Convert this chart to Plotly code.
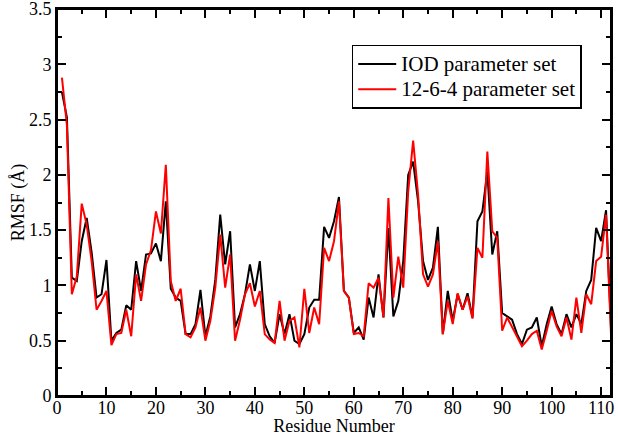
import plotly.graph_objects as go

residues = list(range(1, 113))

iod = [2.75, 2.52, 1.07, 1.04, 1.40, 1.61, 1.30, 0.89, 0.92, 1.23,
       0.50, 0.57, 0.60, 0.82, 0.78, 1.22, 0.95, 1.28, 1.29, 1.38,
       1.22, 1.76, 0.97, 0.89, 0.86, 0.56, 0.56, 0.65, 0.96, 0.54,
       0.72, 1.05, 1.64, 1.19, 1.49, 0.62, 0.74, 0.92, 1.19, 0.95,
       1.22, 0.65, 0.54, 0.48, 0.74, 0.56, 0.74, 0.50, 0.47, 0.56,
       0.80, 0.87, 0.87, 1.53, 1.43, 1.58, 1.80, 0.95, 0.89, 0.57,
       0.62, 0.51, 0.89, 0.71, 1.10, 0.71, 1.52, 0.72, 0.86, 1.22,
       2.00, 2.12, 1.76, 1.22, 1.05, 1.16, 1.53, 0.56, 0.95, 0.68,
       0.92, 0.78, 0.93, 0.71, 1.58, 1.67, 2.03, 1.28, 1.49, 0.75,
       0.72, 0.69, 0.56, 0.47, 0.60, 0.62, 0.71, 0.45, 0.65, 0.81,
       0.65, 0.56, 0.74, 0.62, 0.74, 0.65, 0.95, 1.05, 1.52, 1.40,
       1.68, 0.62]

p1264 = [2.88, 2.45, 0.92, 1.08, 1.74, 1.55, 1.22, 0.78, 0.86, 0.95,
         0.46, 0.56, 0.57, 0.78, 0.54, 1.10, 0.86, 1.19, 1.32, 1.67,
         1.47, 2.09, 1.04, 0.86, 0.97, 0.56, 0.53, 0.62, 0.80, 0.50,
         0.68, 0.98, 1.46, 0.98, 1.28, 0.50, 0.69, 0.92, 1.02, 0.81,
         0.95, 0.56, 0.51, 0.48, 0.86, 0.50, 0.68, 0.71, 0.44, 0.97,
         0.57, 0.80, 0.65, 1.34, 1.22, 1.40, 1.76, 0.95, 0.89, 0.56,
         0.57, 0.54, 1.02, 0.98, 1.07, 0.71, 1.79, 0.89, 1.26, 0.98,
         1.85, 2.31, 1.82, 1.10, 0.99, 1.10, 1.40, 0.56, 0.86, 0.65,
         0.93, 0.78, 0.90, 0.70, 1.34, 1.25, 2.21, 1.49, 1.43, 0.59,
         0.71, 0.62, 0.53, 0.45, 0.50, 0.56, 0.59, 0.42, 0.59, 0.77,
         0.63, 0.54, 0.71, 0.51, 0.89, 0.57, 0.92, 0.83, 1.22, 1.26,
         1.64, 0.56]

series_names = ["IOD parameter set", "12-6-4 parameter set"]
series_colors = ["#000000", "#ff0000"]

x_ticks = list(range(0, 111, 10))
y_ticks = [0, 0.5, 1, 1.5, 2, 2.5, 3, 3.5]

font_family = "Liberation Serif, Times New Roman, serif"

fig = go.Figure()
for name, vals, col in zip(series_names, [iod, p1264], series_colors):
    fig.add_trace(go.Scatter(
        x=residues, y=vals, mode="lines",
        name="<span style='font-size:21px'>" + name + "</span>",
        line=dict(color=col, width=2)))

axis_common = dict(
    showline=True, linecolor="black", linewidth=2, mirror="allticks",
    ticks="inside", ticklen=9, tickwidth=2, tickcolor="black",
    showgrid=False, zeroline=False, automargin=False,
    ticklabeloverflow="allow",
    tickfont=dict(family=font_family, size=18, color="black"),
)

fig.update_xaxes(range=[0, 112], tickvals=x_ticks, ticklabelstandoff=-6,
                 minor=dict(dtick=5, tick0=0, ticks="inside", ticklen=5,
                            tickwidth=2, tickcolor="black"),
                 title=dict(text="Residue Number",
                            font=dict(family=font_family, size=18, color="black"),
                            standoff=3),
                 **axis_common)
fig.update_yaxes(range=[0, 3.5001], tickvals=y_ticks,
                 minor=dict(dtick=0.25, tick0=0, ticks="inside", ticklen=5,
                            tickwidth=2, tickcolor="black"),
                 title=dict(text="RMSF (Å)",
                            font=dict(family=font_family, size=18, color="black"),
                            standoff=0),
                 **axis_common)

# plot frame
fig.add_shape(type="rect", xref="paper", yref="paper", x0=0, x1=1, y0=0, y1=1,
              line=dict(color="black", width=2), layer="above")

fig.update_layout(
    width=618, height=436,
    margin=dict(l=57, r=7, t=9, b=40),
    paper_bgcolor="white", plot_bgcolor="white",
    font=dict(family=font_family, size=18, color="black"),
    legend=dict(x=0.532, y=0.907, xanchor="left", yanchor="top",
                bordercolor="black", borderwidth=1.5, bgcolor="white",
                font=dict(family=font_family, size=17, color="black"),
                itemwidth=38, tracegroupgap=0),
    showlegend=True,
)

fig.write_html("out.html",
               config={"displayModeBar": False},
               post_script="document.body.style.margin='0';document.body.style.overflow='hidden';")
